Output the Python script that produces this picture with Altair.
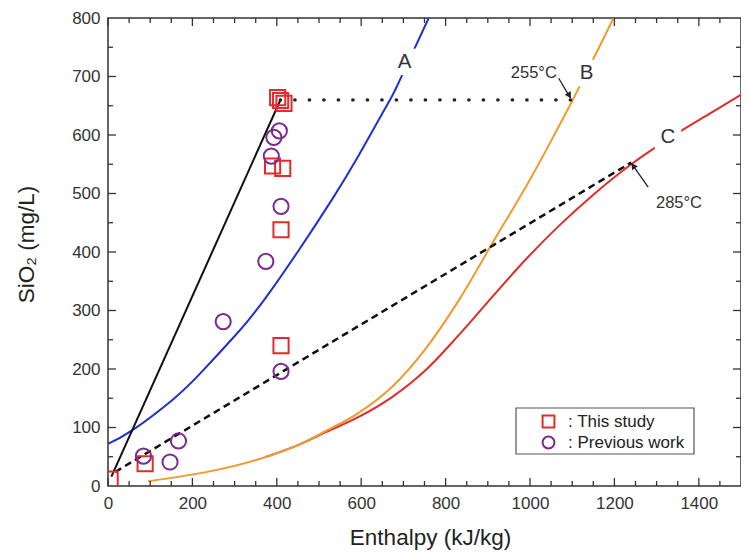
import altair as alt
import pandas as pd

# ---------------- data ----------------
# measured points
sq_x = [5, 88, 390, 414, 410, 410, 402, 409, 417]
sq_y = [12, 38, 547, 543, 438, 240, 664, 659, 654]
ci_x = [84, 147, 167, 273, 374, 410, 410, 387, 393, 406]
ci_y = [51, 41, 77, 281, 384, 196, 478, 564, 596, 607]

# curve A (blue)
a_x = [0, 57, 154, 222, 296, 331, 374, 452, 531, 594, 665, 689, 760]
a_y = [72, 95, 148, 195, 253, 282, 322, 403, 490, 565, 656, 690, 800]
# curve B (orange)
b_x = [95, 375, 450, 516, 594, 674, 752, 830, 910, 1000, 1050, 1102, 1150, 1198]
b_y = [8, 50, 70, 94, 125, 170, 234, 316, 414, 524, 590, 661, 730, 800]
# curve C (red)
c_x = [375, 450, 516, 594, 673, 751, 830, 909, 987, 1066, 1150, 1240, 1308, 1358, 1420, 1500]
c_y = [50, 70, 92, 118, 152, 197, 257, 322, 385, 443, 498, 550, 584, 607, 634, 669]

# mixing line (solid black), dilution line (dashed), level line (dotted)
mix_x = [8, 408]
mix_y = [16, 659]
dash_x = [17, 1240]
dash_y = [24, 553]
dot_x = [408, 1100]
dot_y = [660, 660]

# curve labels
lab_text = ["A", "B", "C"]
lab_x = [703, 1134, 1327]
lab_y = [725, 706, 597]

# temperature annotations
temp_text = ["255°C", "285°C"]
temp_x = [1009, 1353]
temp_y = [706, 484]
arr_x0 = [1068, 1280]
arr_y0 = [697, 511]
arr_x1 = [1096, 1240]
arr_y1 = [663, 552]
head_x = [1092, 1246]
head_y = [669, 546]

# axis ticks
x_major = list(range(0, 1401, 200))
x_minor = [v for v in range(50, 1500, 50) if v % 200 != 0]
y_major = list(range(100, 800, 100))
y_minor = list(range(50, 800, 100))

series_names = ["This study", "Previous work"]

# ---------------- styling ----------------
FONT = "Liberation Sans"
RED = "#e42b2b"
PURPLE = "#7b2a90"
BLUE = "#2030d0"
ORANGE = "#f29a2e"
W, H = 633, 468

xs = alt.Scale(domain=[0, 1500], nice=False, zero=False)
ys = alt.Scale(domain=[0, 800], nice=False, zero=False)

x_axis = alt.Axis(
    values=x_major, format="d", title="Enthalpy (kJ/kg)", ticks=False, tickSize=0,
    domain=False, grid=False, labelFont=FONT, labelFontSize=17, labelColor="#333",
    labelPadding=9, labelFlush=False, labelOverlap=False, titleFont=FONT,
    titleFontSize=22.5, titleFontWeight="normal", titleColor="#222", titleX=322,
    titleY=51, titleBaseline="middle", titleAlign="center",
)
y_axis = alt.Axis(
    values=[0] + y_major + [800], format="d", title="SiO₂ (mg/L)", ticks=False,
    tickSize=0, domain=False, grid=False, labelFont=FONT, labelFontSize=17,
    labelColor="#333", labelPadding=8, labelFlush=False, labelOverlap=False,
    titleFont=FONT, titleFontSize=22.5, titleFontWeight="normal", titleColor="#222",
    titleX=-82, titleY=226, titleAngle=270, titleBaseline="middle",
    titleAlign="center",
)


def X(f="x"):
    return alt.X(f"{f}:Q", scale=xs, axis=x_axis)


def Y(f="y"):
    return alt.Y(f"{f}:Q", scale=ys, axis=y_axis)


def line_df(xv, yv):
    return pd.DataFrame({"x": xv, "y": yv})


red_c = alt.Chart(line_df(c_x, c_y)).mark_line(
    color=RED, strokeWidth=2, interpolate="monotone", clip=True
).encode(x=X(), y=Y())
orange_b = alt.Chart(line_df(b_x, b_y)).mark_line(
    color=ORANGE, strokeWidth=2, interpolate="monotone", clip=True
).encode(x=X(), y=Y())
blue_a = alt.Chart(line_df(a_x, a_y)).mark_line(
    color=BLUE, strokeWidth=2, interpolate="natural", clip=True
).encode(x=X(), y=Y())
mix = alt.Chart(line_df(mix_x, mix_y)).mark_line(
    color="#111", strokeWidth=2
).encode(x=X(), y=Y())
dashed = alt.Chart(line_df(dash_x, dash_y)).mark_line(
    color="#111", strokeWidth=2.5, strokeDash=[7, 4.5]
).encode(x=X(), y=Y())
dotted = alt.Chart(line_df(dot_x, dot_y)).mark_line(
    color="#222", strokeWidth=3.2, strokeDash=[0.5, 14], strokeCap="round"
).encode(x=X(), y=Y())

lab_df = pd.DataFrame({"x": lab_x, "y": lab_y, "t": lab_text})
lab_bg = alt.Chart(lab_df).mark_point(
    shape="square", filled=True, color="white", opacity=1, size=700
).encode(x=X(), y=Y())
lab_txt = alt.Chart(lab_df).mark_text(
    font=FONT, fontSize=20.5, color="#333", baseline="middle", align="center"
).encode(x=X(), y=Y(), text="t:N")

temp_df = pd.DataFrame({"x": temp_x, "y": temp_y, "t": temp_text})
temp_txt = alt.Chart(temp_df).mark_text(
    font=FONT, fontSize=16.5, color="#333", baseline="middle", align="center"
).encode(x=X(), y=Y(), text="t:N")

arr_df = pd.DataFrame({"x": arr_x0, "y": arr_y0, "x2": arr_x1, "y2": arr_y1})
arr_shaft = alt.Chart(arr_df).mark_rule(color="#222", strokeWidth=1.3).encode(
    x=X("x"), y=Y("y"), x2="x2:Q", y2="y2:Q"
)
head_df = pd.DataFrame({"x": head_x, "y": head_y, "k": [0, 1]})
head1 = alt.Chart(head_df).transform_filter("datum.k == 0").mark_point(
    shape="triangle", filled=True, color="#222", opacity=1, size=50, angle=149
).encode(x=X(), y=Y())
head2 = alt.Chart(head_df).transform_filter("datum.k == 1").mark_point(
    shape="triangle", filled=True, color="#222", opacity=1, size=50, angle=325
).encode(x=X(), y=Y())

# legend frame (pixel placement inside the plot area)
legend_box = alt.Chart(pd.DataFrame({"k": [0]})).mark_rect(
    fill="white", stroke="#555", strokeWidth=1.2
).encode(x=alt.value(408), x2=alt.value(586), y=alt.value(390), y2=alt.value(436))

pts_df = pd.DataFrame({
    "x": sq_x + ci_x,
    "y": sq_y + ci_y,
    "src": [series_names[0]] * len(sq_x) + [series_names[1]] * len(ci_x),
})
leg = alt.Legend(
    orient="none", legendX=408, legendY=393, title=None, direction="vertical",
    padding=2, labelFont=FONT, labelFontSize=17, labelColor="#222",
    labelExpr="': ' + datum.label",
    symbolSize=140, symbolStrokeWidth=2, symbolOffset=22, labelOffset=11,
    rowPadding=0,
)
points = alt.Chart(pts_df).mark_point(
    filled=False, size=230, strokeWidth=2, opacity=1, clip=True
).encode(
    x=X(), y=Y(),
    color=alt.Color("src:N", scale=alt.Scale(domain=series_names, range=[RED, PURPLE]), legend=leg),
    shape=alt.Shape("src:N", scale=alt.Scale(domain=series_names, range=["square", "circle"]), legend=leg),
)

# inward ticks on all four sides
TC = "#333"
xt_major = pd.DataFrame({"x": x_major})
xt_minor = pd.DataFrame({"x": x_minor})
yt_major = pd.DataFrame({"y": y_major})
yt_minor = pd.DataFrame({"y": y_minor})
ticks = [
    alt.Chart(xt_major).mark_rule(color=TC, strokeWidth=1.3).encode(x=X(), y=alt.value(H), y2=alt.value(H - 8)),
    alt.Chart(xt_minor).mark_rule(color=TC, strokeWidth=1.3).encode(x=X(), y=alt.value(H), y2=alt.value(H - 5)),
    alt.Chart(xt_major).mark_rule(color=TC, strokeWidth=1.3).encode(x=X(), y=alt.value(0), y2=alt.value(8)),
    alt.Chart(xt_minor).mark_rule(color=TC, strokeWidth=1.3).encode(x=X(), y=alt.value(0), y2=alt.value(5)),
    alt.Chart(yt_major).mark_rule(color=TC, strokeWidth=1.3).encode(y=Y(), x=alt.value(0), x2=alt.value(8)),
    alt.Chart(yt_minor).mark_rule(color=TC, strokeWidth=1.3).encode(y=Y(), x=alt.value(0), x2=alt.value(5)),
    alt.Chart(yt_major).mark_rule(color=TC, strokeWidth=1.3).encode(y=Y(), x=alt.value(W), x2=alt.value(W - 8)),
    alt.Chart(yt_minor).mark_rule(color=TC, strokeWidth=1.3).encode(y=Y(), x=alt.value(W), x2=alt.value(W - 5)),
]

chart = alt.layer(
    red_c, orange_b, blue_a, mix, dashed, dotted, legend_box,
    lab_bg, lab_txt, temp_txt, arr_shaft, head1, head2, points, *ticks
).properties(
    width=W, height=H,
    autosize=alt.AutoSizeParams(type="none"),
    padding={"left": 100, "top": 10, "right": 0, "bottom": 66},
).configure_view(stroke="#333", strokeWidth=1.5)

chart.save("out.html", embed_options={"renderer": "svg", "actions": False})
